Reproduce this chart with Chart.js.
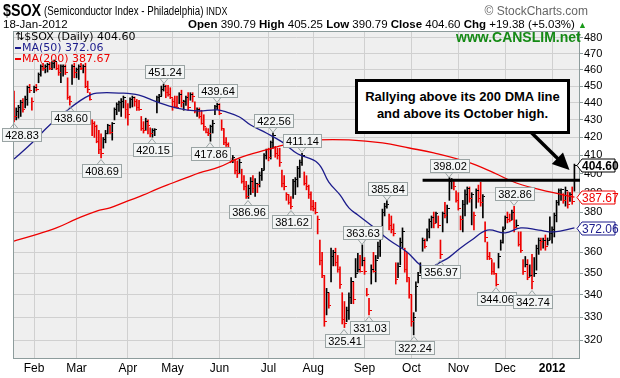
<!DOCTYPE html>
<html>
<head>
<meta charset="utf-8">
<script src="https://cdn.jsdelivr.net/npm/chart.js@4.4.0/dist/chart.umd.min.js"></script>
<style>
body{margin:0;background:#fff;font-family:"Liberation Sans",Arial,sans-serif}
#box{position:relative;width:620px;height:378px;overflow:hidden}
#c{position:absolute;left:0;top:0}
.t{position:absolute;white-space:nowrap;color:#000}
#sym{left:3px;top:1px;font-size:17px;font-weight:bold;transform:scaleX(0.84);transform-origin:0 0}
#nm{left:44px;top:4px;font-size:12px;transform:scaleX(0.81);transform-origin:0 0}
#nm .ex{font-size:11px}
#sc{right:32px;top:4px;font-size:12px;color:#666}
#dt{left:3px;top:18px;font-size:11.5px}
#q{right:33px;top:18px;font-size:11.5px}
#q .up{color:#1a9a1a;font-size:9px}
#lg{left:15px;top:31px;font-family:"DejaVu Sans",Verdana,sans-serif;font-size:11px;line-height:11px}
#lg .b{color:#1c1c8c}
#lg .r{color:#e00}
#lg i{display:inline-block;width:6px;height:2px;vertical-align:middle;margin-right:1px}
#lg .b i{background:#1c1c8c}
#lg .r i{background:#e00}
#cs{left:456px;top:29px;font-size:14px;font-weight:bold;color:#158a15}
#note{left:355px;top:79px;width:209px;height:43px;border:3px solid #000;background:#fff;
  font-size:13px;font-weight:bold;text-align:center;line-height:17px;padding-top:6px;box-sizing:content-box}
</style>
</head>
<body>
<div id="box">
<canvas id="c" width="620" height="378"></canvas>
<div class="t" id="sym">$SOX</div>
<div class="t" id="nm">(Semiconductor Index - Philadelphia) <span class="ex">INDX</span></div>
<div class="t" id="sc">© StockCharts.com</div>
<div class="t" id="dt">18-Jan-2012</div>
<div class="t" id="q"><b>Open</b> 390.79 <b>High</b> 405.25 <b>Low</b> 390.79 <b>Close</b> 404.60 <b>Chg</b> +19.38 (+5.03%) <span class="up">▲</span></div>
<div class="t" id="lg"><div>⇅$SOX (Daily) 404.60</div><div class="b"><i></i>MA(50) 372.06</div><div class="r"><i></i>MA(200) 387.67</div></div>
<div class="t" id="cs">www.CANSLIM.net</div>
<div class="t" id="note">Rallying above its 200 DMA line<br>and above its October high.</div>
</div>
<script>
// daily bars, 19-Jan-2011 .. 18-Jan-2012 (index = trading day)
const highs = [
  447,437,438.5,441.5,442.5,444,450,451,443,450,451,458,463,464,463,464,464.5,465,466,464.5,
  463,463,463,463,455,444,463,464,461,463,464,463,464,453,446,430,429,427,424,422,
  420,424,427.5,427,428.5,437,440,441,442.5,444,441.5,439.5,443,444,443.5,442,441.5,432,429,431,
  430,425.5,425,425,444,445,450,451.24,450.5,450.5,449,442.5,444,444,446,447.5,441.5,444,446,446,
  446,440.5,437,437,435.6,433,425.5,425,427,429.8,438.5,439.64,439.5,430,425,420,417,408.5,410,408,
  407,408,402.5,399,396,394,398,399,397.5,395,401,403,411,413.5,414,418,422.56,415,414,414,
  402,399,390,389,388,397,398,404,407.5,411.14,401,399,394,390.5,386,385,378,366,360,349,
  343,341,362,361,362,358.5,353,341,337,334.5,341,348,346,357,359.5,358.5,363.63,357.5,343,338.5,
  354,360,358.5,365,372.5,381.5,384.5,385.84,379,378,374,355,355,367,372,362,360,348,340,332,
  346,350.5,355,367,366.5,371.5,376.5,378,380,380,378,366,380,385,383.5,398.02,397.5,396.5,391,390,
  378,386,391.5,393,393,390,380,392,394,395.5,389,375,365,360,356.5,355,350,359.5,366,372.5,
  378,380,379,381,382.86,376,370,370,356.5,358,356.5,354,359,357.5,363.5,367,367,367,368.5,367,
  377.5,372.5,379.5,386,392,392,389.5,393,390.5,390,393,405.25
];
const lows = [
  428.83,430,431,432,434.5,437,438.5,446,435.6,446,447,452,456,459.6,458,458.5,460,460,461,460,
  456.5,452,456,457,442,438.6,451,455,455,454,460,458,449,446,441.5,421,420,417,411,408.69,
  414,417,422,422,418.5,430,433,435,432,437,431,427,437,437.5,438,435.5,435.5,424,422.5,424,
  422,420.3,420.15,421,434,440,444,447,443,444,442.5,435.6,437,437,439.5,437.5,435.6,438.5,435.6,441.5,
  440.5,434,432,431,427.5,424,422.5,421,417.86,422.5,433,436,433,424,416,415,408.5,406,406,400,
  398,400,395,391.5,387,386.96,389,390,388,390,393,396.5,402,408,407,408,414,409,408,404,
  393,391.5,386,384,381.62,387,389,393,398,404.5,394,391.5,387,381,380.6,379,369,354,348,326,
  331,334,346,353.5,353.5,350.5,343,327,325.41,328,329,336,336,348,350.5,350.5,353.5,349.5,339.5,331.03,
  345,350.5,346,357,358,367,378,382,371,369.5,368,345,348,354,362,350.5,346,338.5,326,322.24,
  332.5,345.5,350,360.5,362,365.5,367,372,372,374.5,372,356.97,370,377,374.5,386,392,391.5,385,381,
  371,370,378,384,385,373.5,371,382,385,383,377,365,356.5,356.5,349.5,349.5,344.06,352.5,361,364.5,
  371.5,374.5,375,376,370,372,363,360,349.5,353,347,348.5,342.74,348.5,351.5,359,361,362,361,363.5,
  366,364.5,367.5,375,383.5,386,384.5,383,382,385.5,384,390.79
];
const closes = [
  432,435,437,440,436,442,449,447.5,441,449,448,457,462,461,462,463,461,464,465,461,
  458,462,462,458,443,441,462,458,460,462,461,462,450,448,442,428,426,418,413,411,
  419,422,427,423,428,436,439,440,441,443,436,433,442,443,441,437,436,425,424,429,
  427,422,424,424.5,443,444,448,450,446,445,443,441,438,437.5,445,440,441,443,437,445,
  444,435,436,432,428,426,423,422,426,428,438,439,434,425,417,416,410,407,409,402,
  400,406,396,393,388,392,396,392,395,394.5,399,402,410,413,409,417,421,411,410,406,
  395,393,389,385,383,396,397,403,406,410,395,393,389,383,382,380,376,356,349,328,
  341,335,358,360,355,352,345,329,327,333,339,346,338,350,352,351,356,351,340,333,
  352,351,356,363,371,380,383,384,373,371,369,347,353,365,370,352,348,340,328,330,
  344,349,353.5,366,363,370,375,377,374,379,373,359,379,378,382,396,396.5,393,386,382,
  376,384,389,392,387,389,378,391,387,385,388,367,358,357,351,350,345,358,365,371,
  377,376,375.5,380,372,373,364,361,351,354,348,349,346,350,362,366,365.5,366,363,366,
  369,371,378,385,391,391.5,386,391,384,389,385.22,404.6
];
const monthIdx = [9, 28, 51, 71, 92, 114, 134, 157, 178, 199, 220, 241];
const monthLabels = ['Feb', 'Mar', 'Apr', 'May', 'Jun', 'Jul', 'Aug', 'Sep', 'Oct', 'Nov', 'Dec', '2012'];
const priceTicks = [320, 330, 340, 350, 360, 370, 380, 390, 400, 410, 420, 430, 440, 450, 460, 470, 480];

// moving averages
const ma50Days = [0, 8, 16, 24, 30, 34, 37, 47, 56, 64, 73, 82, 91, 95, 101, 106, 113, 120, 127, 136, 141, 146, 150, 154, 161, 168, 176, 182, 186, 191, 195, 200, 205, 212, 220, 227, 235, 242, 251];
const ma50Vals = [408, 416.9, 427.1, 435.8, 441.6, 444.6, 445.8, 445.8, 444.6, 440.5, 436.9, 435.2, 435.8, 434.6, 431.7, 427.1, 422.5, 417.5, 410.9, 405.9, 395.6, 388.8, 382.1, 378.5, 372.4, 366, 360.2, 353.9, 352.5, 355.3, 357.7, 362.1, 366, 370.9, 369.5, 372, 370.9, 370, 372.06];
const ma200Days = [0, 8, 19, 28, 37, 43, 51, 58, 64, 71, 77, 83, 92, 101, 113, 125, 136, 150, 165, 177, 188, 203, 215, 225, 240, 251];
const ma200Vals = [365.5, 368, 372, 376.5, 380.5, 382.1, 385.7, 388.8, 391.9, 395.1, 397.8, 400.5, 403.7, 408.6, 413, 416.9, 418.6, 418.6, 416.9, 414.1, 411.4, 406.4, 400.5, 395.1, 390.4, 387.67];

// swing high / low tags
const tagDays = [0, 25, 39, 62, 67, 88, 91, 105, 116, 124, 129, 148, 156, 159, 167, 179, 191, 195, 216, 224, 232];
const tagVals = [428.83, 438.60, 408.69, 420.15, 451.24, 417.86, 439.64, 386.96, 422.56, 381.62, 411.14, 325.41, 363.63, 331.03, 385.84, 322.24, 356.97, 398.02, 344.06, 382.86, 342.74];
const tagSide = ['lo','lo','lo','lo','hi','lo','hi','lo','hi','lo','hi','lo','hi','lo','hi','lo','lo','hi','lo','hi','lo'];

const octHigh = 396.5   // drawn resistance line
const lastClose = 404.60, lastMa50 = 372.06, lastMa200 = 387.67

const RED = '#ee0000', BLUE = '#1c1c8c'
let barCol = closes.map((c, i) => (i > 0 && c >= closes[i - 1]) ? '#000' : RED)

function tickImg(col) {
  let cv = document.createElement('canvas')
  cv.width = 5; cv.height = 1
  let g = cv.getContext('2d')
  g.fillStyle = col
  g.fillRect(3, 0, 2, 1)
  return cv
}
const tickBlack = tickImg('#000'), tickRed = tickImg(RED)

// background of the plot
const paper = {
  id: 'paper',
  beforeDraw(ch) {
    let { ctx, chartArea: a } = ch
    ctx.save()
    ctx.fillStyle = '#fff'
    ctx.fillRect(0, 0, ch.width, ch.height)
    ctx.fillStyle = '#efefef'
    ctx.fillRect(a.left, a.top, a.right - a.left, a.bottom - a.top)
    ctx.restore()
  }
}

function tag(ctx, x, y, txt, above) {
  ctx.font = '11px "Liberation Sans", Arial, sans-serif'
  let w = Math.round(ctx.measureText(txt).width) + 5, h = 13
  let bx = Math.round(Math.max(2, x - w / 2)) + 0.5
  let by = Math.round(above ? y - 6 - h : y + 6) + 0.5
  let edge = above ? by + h : by
  let tip = above ? edge + 5 : edge - 5
  ctx.strokeStyle = '#9aa4a4'
  ctx.lineWidth = 1
  ctx.beginPath()
  ctx.moveTo(x - 4, edge); ctx.lineTo(x, tip); ctx.lineTo(x + 4, edge)
  ctx.stroke()
  ctx.fillStyle = '#f3f5f5'
  ctx.fillRect(bx, by, w, h)
  ctx.strokeRect(bx, by, w, h)
  ctx.fillStyle = '#000'
  ctx.textAlign = 'center'
  ctx.textBaseline = 'middle'
  ctx.fillText(txt, bx + w / 2, by + h / 2 + 1)
}

function sideBox(ctx, x0, y, txt, col, bold) {
  ctx.font = (bold ? 'bold ' : '') + '12px "Liberation Sans", Arial, sans-serif'
  let w = 38, h = 11
  y = Math.round(y) + 0.5
  ctx.beginPath()
  ctx.moveTo(x0, y)
  ctx.lineTo(x0 + 5, y - h / 2 - 1)
  ctx.lineTo(x0 + w, y - h / 2 - 1)
  ctx.lineTo(x0 + w, y + h / 2 + 1)
  ctx.lineTo(x0 + 5, y + h / 2 + 1)
  ctx.closePath()
  ctx.fillStyle = '#fff'
  ctx.fill()
  ctx.strokeStyle = col
  ctx.lineWidth = 1
  ctx.stroke()
  ctx.fillStyle = col
  ctx.textAlign = 'left'
  ctx.textBaseline = 'middle'
  ctx.fillText(txt, x0 + 5, y + 1)
}

const marks = {
  id: 'marks',
  afterDraw(ch) {
    let { ctx, chartArea: a } = ch
    let xs = ch.scales.x, ys = ch.scales.y
    ctx.save()
    // frame
    ctx.strokeStyle = '#8d9c9c'
    ctx.lineWidth = 1
    ctx.strokeRect(a.left + 0.5, a.top + 0.5, a.right - a.left - 1, a.bottom - a.top)
    // october high line
    let yl = ys.getPixelForValue(octHigh)
    ctx.strokeStyle = '#000'
    ctx.lineWidth = 3
    ctx.beginPath()
    ctx.moveTo(xs.getPixelForValue(183), yl)
    ctx.lineTo(a.right, yl)
    ctx.stroke()
    // arrow from the note to the last bar
    let x1 = xs.getPixelForValue(229.5), y1 = ys.getPixelForValue(425.5)
    let x2 = xs.getPixelForValue(248.8), y2 = ys.getPixelForValue(402)
    let ang = Math.atan2(y2 - y1, x2 - x1)
    ctx.lineWidth = 3.5
    ctx.beginPath()
    ctx.moveTo(x1, y1)
    ctx.lineTo(x2 - 12 * Math.cos(ang), y2 - 12 * Math.sin(ang))
    ctx.stroke()
    ctx.fillStyle = '#000'
    ctx.beginPath()
    ctx.moveTo(x2, y2)
    ctx.lineTo(x2 - 17 * Math.cos(ang) + 8 * Math.sin(ang), y2 - 17 * Math.sin(ang) - 8 * Math.cos(ang))
    ctx.lineTo(x2 - 17 * Math.cos(ang) - 8 * Math.sin(ang), y2 - 17 * Math.sin(ang) + 8 * Math.cos(ang))
    ctx.closePath()
    ctx.fill()
    // swing tags
    tagDays.forEach((d, k) => {
      tag(ctx, Math.round(xs.getPixelForValue(d)), ys.getPixelForValue(tagVals[k]), tagVals[k].toFixed(2), tagSide[k] == 'hi')
    })
    // right side value boxes
    sideBox(ctx, a.right - 3, ys.getPixelForValue(lastMa50), lastMa50.toFixed(2), BLUE, false)
    sideBox(ctx, a.right - 3, ys.getPixelForValue(lastMa200), lastMa200.toFixed(2), RED, false)
    sideBox(ctx, a.right - 3, ys.getPixelForValue(lastClose), lastClose.toFixed(2), '#000', true)
    ctx.restore()
  }
}

const ctx = document.getElementById('c')
new Chart(ctx, {
  type: 'bar',
  data: {
    datasets: [
      {
        type: 'line',
        data: ma50Days.map((d, i) => ({ x: d, y: ma50Vals[i] })),
        borderColor: BLUE, borderWidth: 1.3, pointRadius: 0, tension: 0.4, order: 1,
      },
      {
        type: 'line',
        data: ma200Days.map((d, i) => ({ x: d, y: ma200Vals[i] })),
        borderColor: RED, borderWidth: 1.3, pointRadius: 0, tension: 0.4, order: 1,
      },
      {
        type: 'line',
        data: closes.map((c, i) => ({ x: i, y: c })),
        showLine: false, pointRadius: 1,
        pointStyle: closes.map((c, i) => barCol[i] == RED ? tickRed : tickBlack),
        order: 2,
      },
      {
        type: 'bar',
        data: lows.map((l, i) => ({ x: i, y: [l, highs[i]] })),
        backgroundColor: barCol, borderWidth: 0, barThickness: 1, grouped: false, order: 3,
      },
    ]
  },
  options: {
    responsive: false,
    animation: false,
    devicePixelRatio: 1,
    layout: { padding: { left: 13, top: 31, right: 0, bottom: 0 } },
    plugins: { legend: { display: false }, tooltip: { enabled: false } },
    scales: {
      x: {
        type: 'linear', min: -0.45, max: 253.5, offset: false,
        afterBuildTicks: (s) => { s.ticks = monthIdx.map(v => ({ value: v })) },
        afterFit: (s) => { s.height = 20 },
        grid: { color: '#d0d0d0', drawTicks: false, offset: false },
        border: { display: false },
        ticks: {
          padding: 3, color: '#000', maxRotation: 0, autoSkip: false,
          font: (c) => ({ family: '"Liberation Sans", Arial, sans-serif', size: 12, weight: (c.tick && c.tick.value == 241) ? 'bold' : 'normal' }),
          callback: (v) => monthLabels[monthIdx.indexOf(v)],
        },
      },
      y: {
        type: 'logarithmic', position: 'right', min: 312.4, max: 484.5,
        afterBuildTicks: (s) => { s.ticks = priceTicks.map(v => ({ value: v })) },
        afterFit: (s) => { s.width = 40 },
        grid: { color: '#d0d0d0', tickLength: 3, tickColor: '#8d9c9c' },
        border: { display: false },
        ticks: {
          padding: 1, color: '#000', autoSkip: false,
          font: { family: '"Liberation Sans", Arial, sans-serif', size: 11 },
          callback: (v) => String(v),
        },
      },
    },
  },
  plugins: [paper, marks],
})
</script>
</body>
</html>
